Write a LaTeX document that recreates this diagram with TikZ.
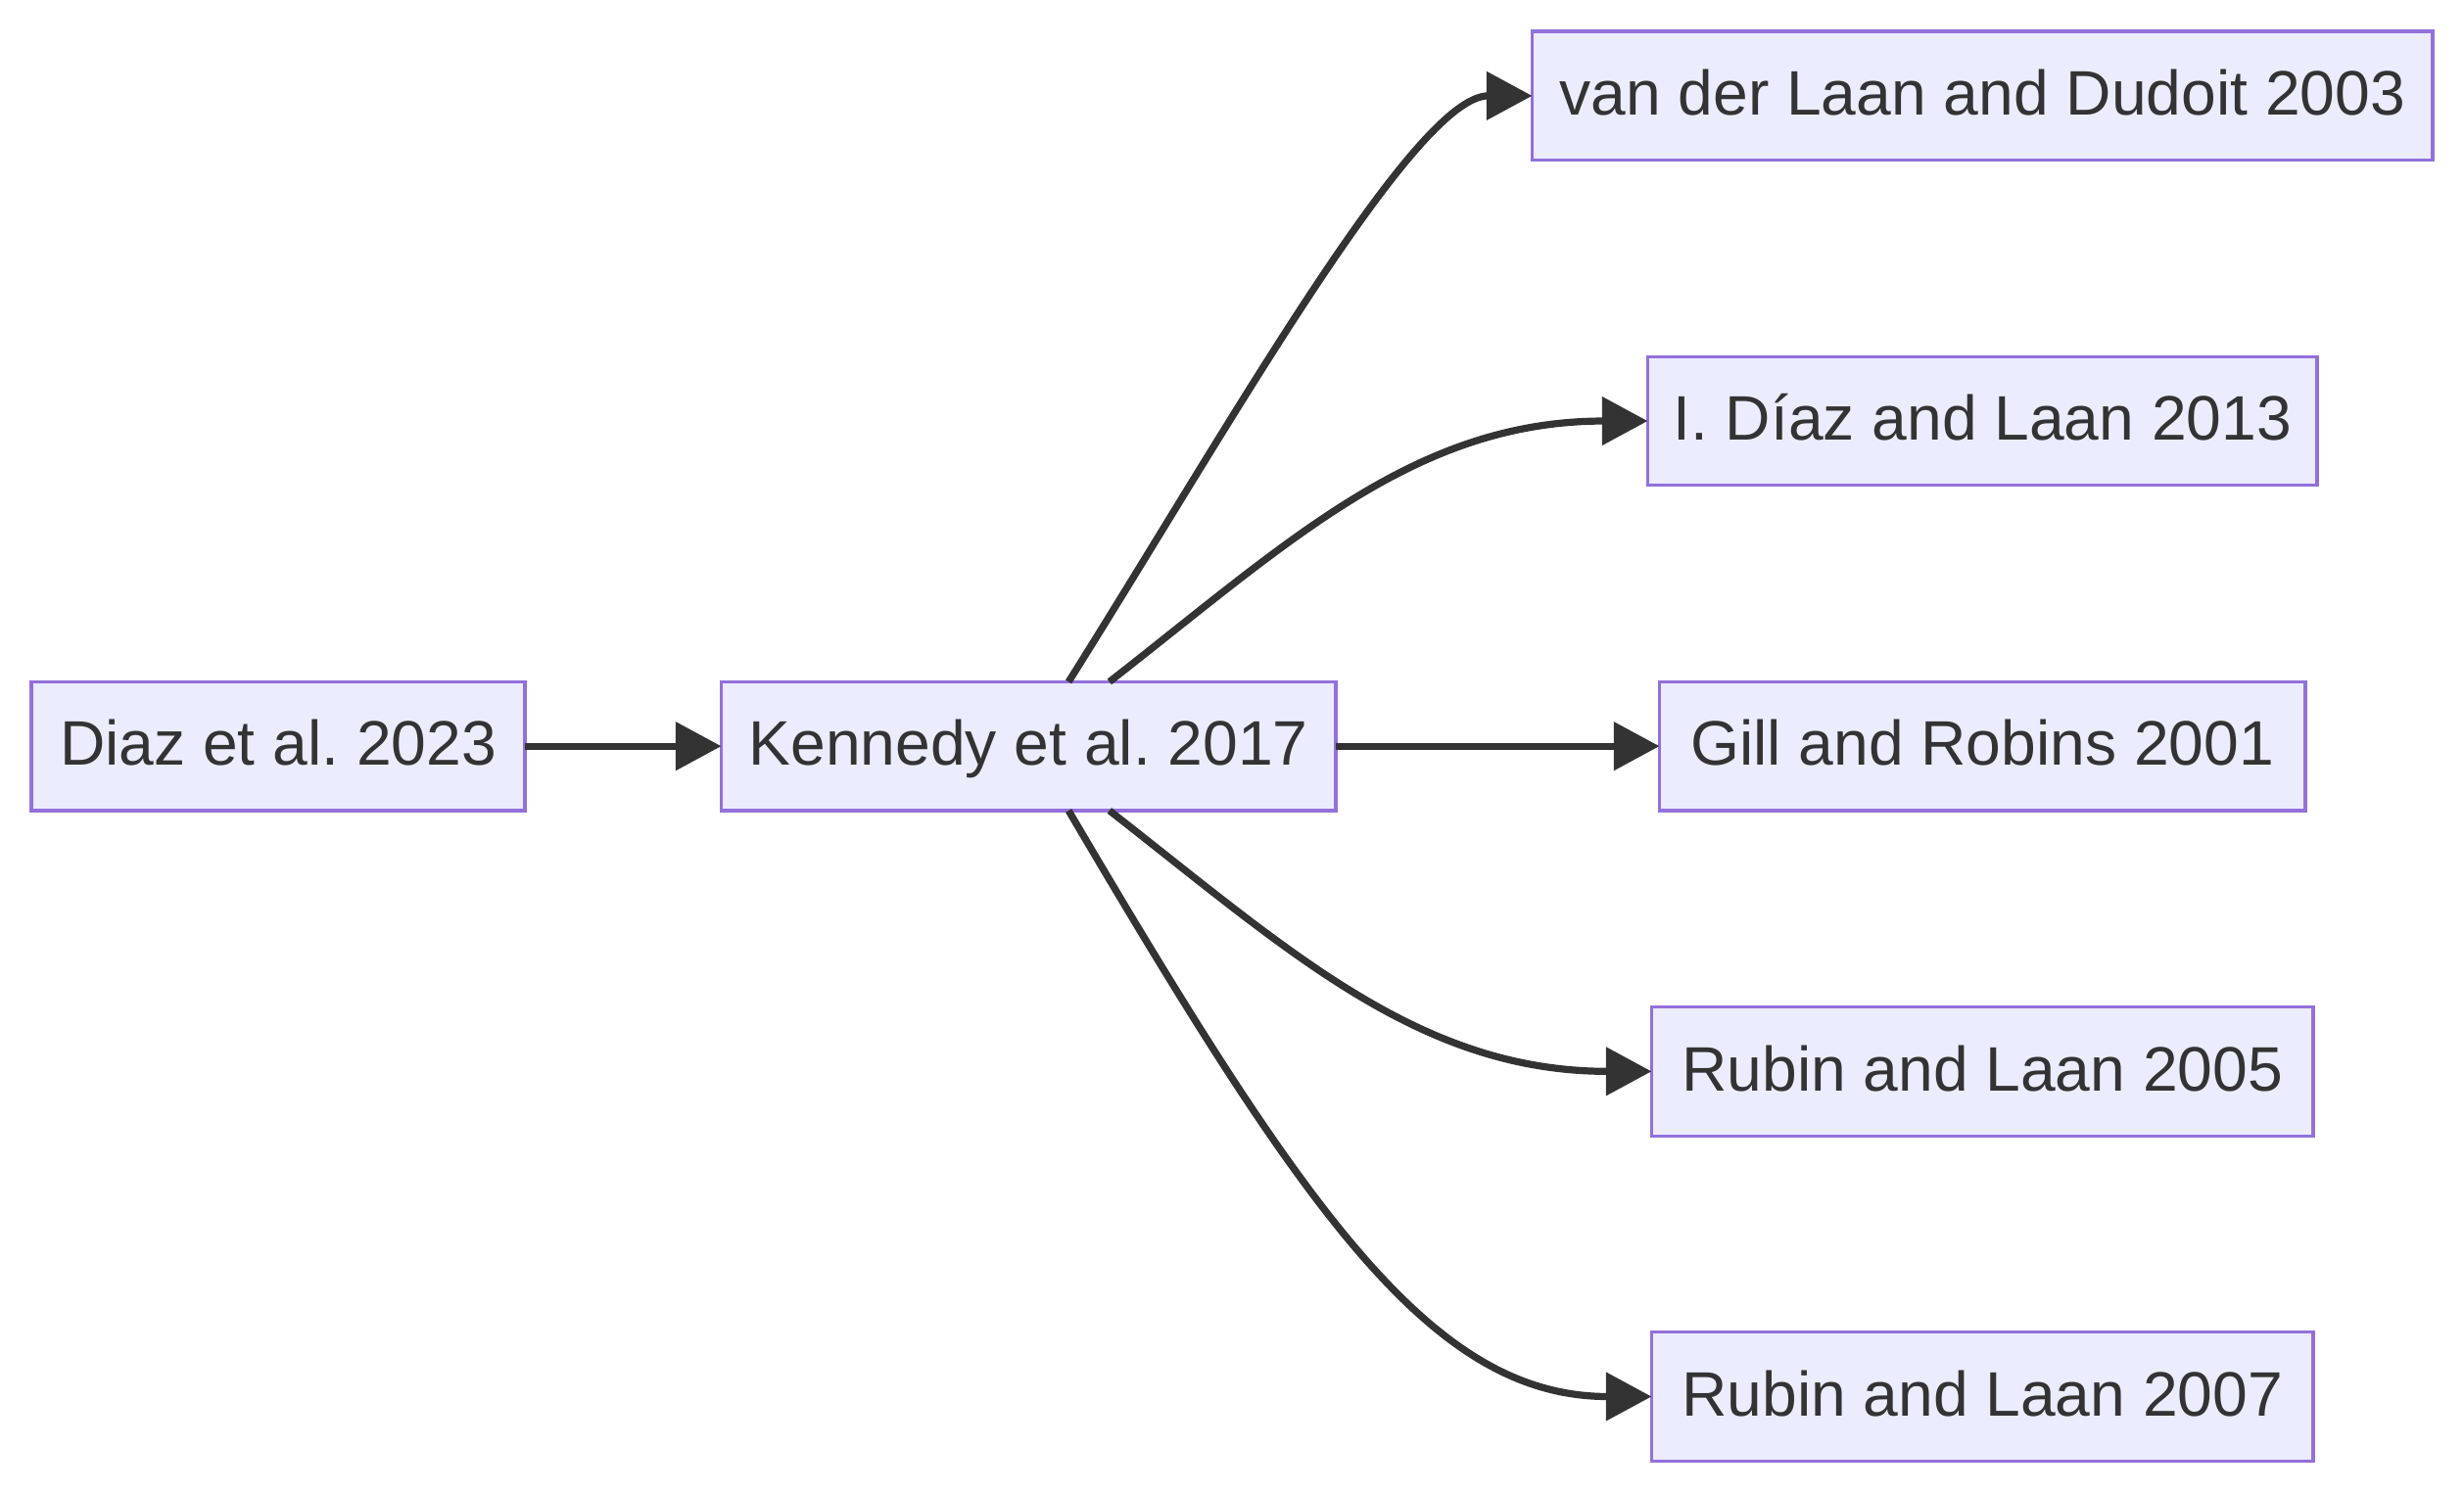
\documentclass[tikz,border=0pt]{standalone}
\usepackage{fontspec}
\setmainfont{Liberation Sans}
\usepackage{xcolor}
\usetikzlibrary{arrows.meta,positioning}
\definecolor{boxfill}{HTML}{ECECFF}
\definecolor{boxline}{HTML}{9370DB}
\definecolor{ink}{HTML}{333333}
\frenchspacing

\begin{document}
\begin{tikzpicture}[every node/.style={align=center}, node distance=125pt]
\tikzset{
  paper/.style={draw=boxline, fill=boxfill, line width=2pt, text=ink, outer sep=0pt,
    minimum height=82pt, inner xsep=0pt, font=\fontsize{40pt}{48pt}\selectfont,
    text height=29.5pt, text depth=5pt},
  cite/.style={draw=ink, line width=4.5pt, -{Triangle[length=29pt,width=30pt]}}
}
\useasboundingbox (0,0) rectangle (1568pt,-950pt);
\node[paper, minimum width=314pt] (diaz) at (177pt,-475pt) {Diaz et al. 2023};
\node[paper, minimum width=391pt, right=of diaz] (kennedy) {Kennedy et al. 2017};
\node[paper, minimum width=411pt, right=206pt of kennedy] (gill) {Gill and Robins 2001};
\node[paper, minimum width=426pt, above=of gill] (idiaz) {I. Díaz and Laan 2013};
\node[paper, minimum width=573pt, above=of idiaz] (vdl) {van der Laan and Dudoit 2003};
\node[paper, minimum width=421pt, below=of gill] (rubin05) {Rubin and Laan 2005};
\node[paper, minimum width=421pt, below=of rubin05] (rubin07) {Rubin and Laan 2007};
\draw[cite] (diaz) -- (kennedy);
\draw[cite] ([xshift=25.5pt]kennedy.north) .. controls +(100pt,159pt) and +(-75pt,0pt) .. (vdl.west);
\draw[cite] ([xshift=51.5pt]kennedy.north) .. controls +(114pt,89pt) and +(-148pt,0pt) .. (idiaz.west);
\draw[cite] (kennedy) -- (gill);
\draw[cite] ([xshift=51.5pt]kennedy.south) .. controls +(114pt,-89pt) and +(-148pt,0pt) .. (rubin05.west);
\draw[cite] ([xshift=25.5pt]kennedy.south) .. controls +(150pt,-255pt) and +(-140pt,0pt) .. (rubin07.west);
\end{tikzpicture}
\end{document}
